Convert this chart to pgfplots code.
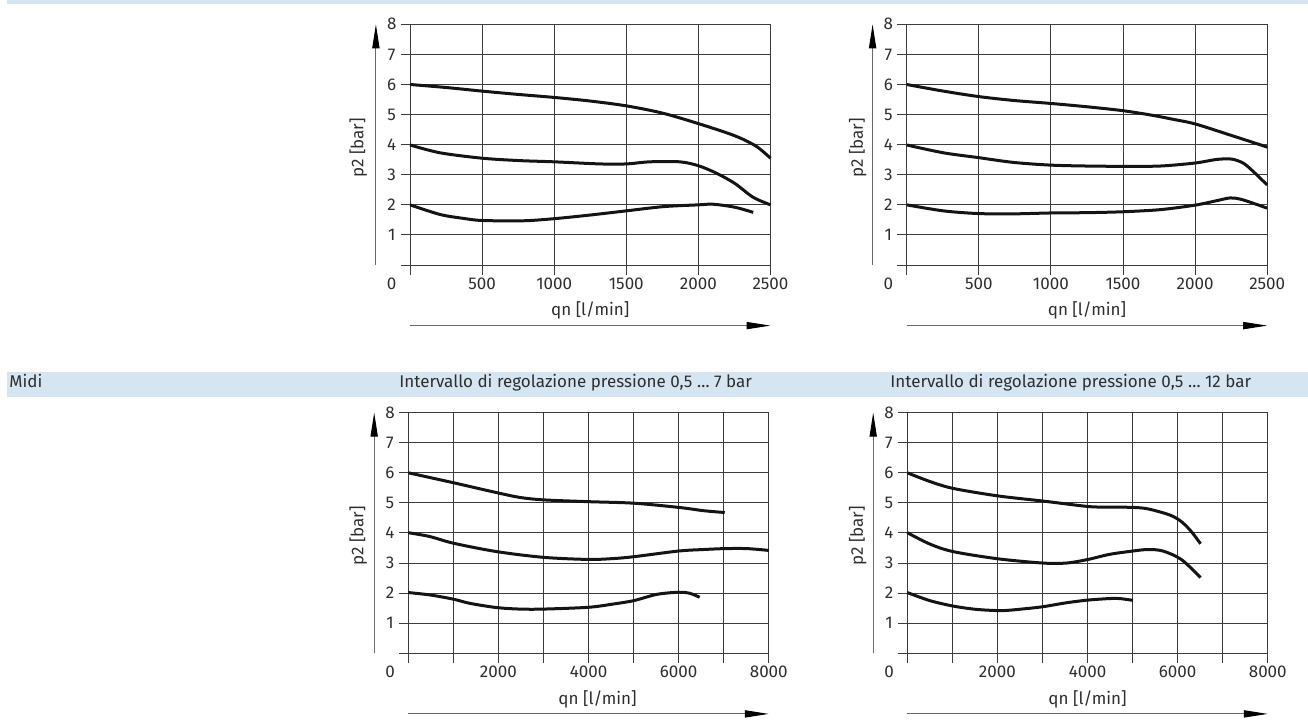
\documentclass[border=0pt]{standalone}
\usepackage{fontspec}
\setmainfont{Fira Sans}
\usepackage{pgfplots}
\pgfplotsset{compat=1.18}
\usetikzlibrary{arrows.meta}

\definecolor{band}{HTML}{D5E6F2}
\definecolor{gridc}{HTML}{3C3C3C}
\definecolor{txt}{HTML}{2E2E2E}
\definecolor{shaft}{HTML}{6A6A6A}
\newcommand\fs{\fontsize{8.5}{10}\selectfont}

\pgfplotsset{
  festo/.style={
    scale only axis, width=184.9pt, height=125.35pt,
    anchor=south west,
    ymin=-0.332, ymax=8,
    ytick={0,...,8}, yticklabels={,1,2,3,4,5,6,7,8},
    axis line style={draw=none}, tick style={draw=none},
    grid=major, grid style={gridc, line width=0.5pt},
    xticklabel style={anchor=center, yshift=-4.3pt, font=\fs, text=txt},
    yticklabel style={anchor=center, xshift=-4.5pt, font=\fs, text=txt},
    scaled ticks=false, clip=false,
  },
  top/.style={festo, xmin=-64.5, xmax=2500, xtick={0,500,...,2500},
    xticklabels={,500,1000,1500,2000,2500}},
  bot/.style={festo, xmin=-206.4, xmax=8000, xtick={0,1000,...,8000},
    xticklabels={,,2000,,4000,,6000,,8000}},
  curve/.style={line width=1.5pt, black!92, smooth, tension=0.5, no markers},
}

% decorations common to every axis: #1 xmin, #2 xmax, #3 qn label x-shift, #4 p2 label x-shift
\newcommand\deco[4]{%
  \node[font=\fs, text=txt] at ([xshift=-4.5pt,yshift=-4.3pt]axis cs:#1,-0.332) {0};
  \node[font=\fs, text=txt] at ([xshift=#3,yshift=-17.85pt]axis cs:{#2/2},-0.332) {qn [l/min]};
  \node[font=\fs, text=txt, rotate=90] at ([xshift=-#4]axis cs:#1,3.9) {p2 [bar]};
  \draw[shaft, line width=0.5pt, -{Triangle[length=12pt,width=3.6pt,color=black]}]
    ([yshift=-25.3pt]axis cs:0,-0.332) -- ([yshift=-25.3pt]axis cs:#2,-0.332);
  \draw[shaft, line width=0.5pt, -{Triangle[length=12pt,width=3.6pt,color=black]}]
    ([xshift=-12.4pt]axis cs:#1,0) -- ([xshift=-12.4pt]axis cs:#1,8);
}

\begin{document}
\begin{tikzpicture}
\path[use as bounding box] (0,0) rectangle (654pt,-362pt);
% bands
\fill[band] (3.5pt,0) rectangle (654pt,-2pt);
\fill[band] (3.5pt,-186pt) rectangle (654pt,-198.5pt);
\node[font=\fs, text=txt, anchor=base west, inner sep=0pt] at (4.5pt,-193.75pt) {Midi};
\node[font=\fs, text=txt, anchor=base west, inner sep=0pt] at (199.5pt,-193.75pt) {Intervallo di regolazione pressione 0,5 … 7 bar};
\node[font=\fs, text=txt, anchor=base west, inner sep=0pt] at (445pt,-193.75pt) {Intervallo di regolazione pressione 0,5 … 12 bar};

% ---------- top left ----------
\begin{axis}[top, at={(200.35pt,-137.5pt)}]
\addplot[curve] coordinates {(0,6.0) (250,5.9) (500,5.78) (750,5.67) (1000,5.57) (1250,5.45) (1500,5.29) (1750,5.05) (2000,4.7) (2250,4.3) (2400,3.95) (2500,3.55)};
\addplot[curve] coordinates {(0,3.99) (208,3.73) (500,3.55) (762,3.47) (1000,3.43) (1317,3.36) (1500,3.36) (1664,3.43) (1871,3.43) (2000,3.30) (2126,3.05) (2253,2.71) (2380,2.25) (2500,2.0)};
\addplot[curve] coordinates {(0,2.0) (208,1.68) (370,1.55) (500,1.48) (785,1.47) (1000,1.54) (1247,1.66) (1500,1.80) (1756,1.94) (2000,2.0) (2103,2.02) (2253,1.92) (2380,1.75)};
\deco{-64.5}{2500}{0pt}{21.2pt}
\end{axis}

% ---------- top right ----------
\begin{axis}[top, at={(448.7pt,-137.5pt)}]
\addplot[curve] coordinates {(0,6.0) (254,5.78) (497,5.6) (740,5.47) (999,5.37) (1249,5.26) (1499,5.13) (1711,4.97) (1850,4.84) (2000,4.69) (2243,4.32) (2500,3.92)};
\addplot[curve] coordinates {(0,3.99) (254,3.73) (497,3.57) (740,3.41) (999,3.32) (1249,3.29) (1499,3.28) (1758,3.29) (2000,3.39) (2151,3.51) (2255,3.52) (2336,3.38) (2405,3.10) (2500,2.66)};
\addplot[curve] coordinates {(0,2.0) (254,1.80) (497,1.71) (740,1.70) (999,1.73) (1249,1.74) (1499,1.77) (1758,1.84) (2000,1.99) (2151,2.14) (2243,2.23) (2313,2.19) (2405,2.05) (2500,1.89)};
\deco{-64.5}{2500}{0pt}{19.85pt}
\end{axis}

% ---------- bottom left ----------
\begin{axis}[bot, at={(199.5pt,-331.65pt)}]
\addplot[curve] coordinates {(0,6.0) (1000,5.67) (1963,5.34) (2481,5.18) (2999,5.10) (4000,5.04) (5000,4.99) (6000,4.85) (6555,4.74) (7022,4.68)};
\addplot[curve] coordinates {(0,4.01) (481,3.88) (1000,3.66) (1963,3.38) (2999,3.19) (4000,3.12) (4555,3.15) (5000,3.21) (6000,3.40) (6555,3.45) (7022,3.48) (7518,3.48) (8000,3.42)};
\addplot[curve] coordinates {(0,2.02) (481,1.94) (1000,1.80) (1370,1.66) (1963,1.52) (2481,1.47) (2999,1.47) (4000,1.53) (4555,1.64) (5000,1.75) (5518,1.96) (6000,2.03) (6259,1.99) (6466,1.86)};
\deco{-206.4}{8000}{4.5pt}{20.35pt}
\end{axis}

% ---------- bottom right ----------
\begin{axis}[bot, at={(449pt,-331.65pt)}]
\addplot[curve] coordinates {(0,6.0) (502,5.71) (1019,5.48) (2017,5.23) (3014,5.06) (4011,4.88) (4491,4.86) (5008,4.85) (5341,4.80) (5821,4.60) (6080,4.38) (6301,4.05) (6508,3.64)};
\addplot[curve] coordinates {(0,4.01) (502,3.63) (1019,3.38) (2017,3.14) (3014,3.0) (3531,3.0) (4011,3.12) (4491,3.29) (5008,3.40) (5341,3.45) (5673,3.40) (6080,3.12) (6508,2.52)};
\addplot[curve] coordinates {(0,2.02) (502,1.75) (1019,1.57) (1536,1.46) (2100,1.42) (2600,1.48) (3014,1.55) (3531,1.68) (4011,1.77) (4491,1.82) (4713,1.82) (5008,1.76)};
\deco{-206.4}{8000}{0pt}{20.15pt}
\end{axis}
\end{tikzpicture}
\end{document}
